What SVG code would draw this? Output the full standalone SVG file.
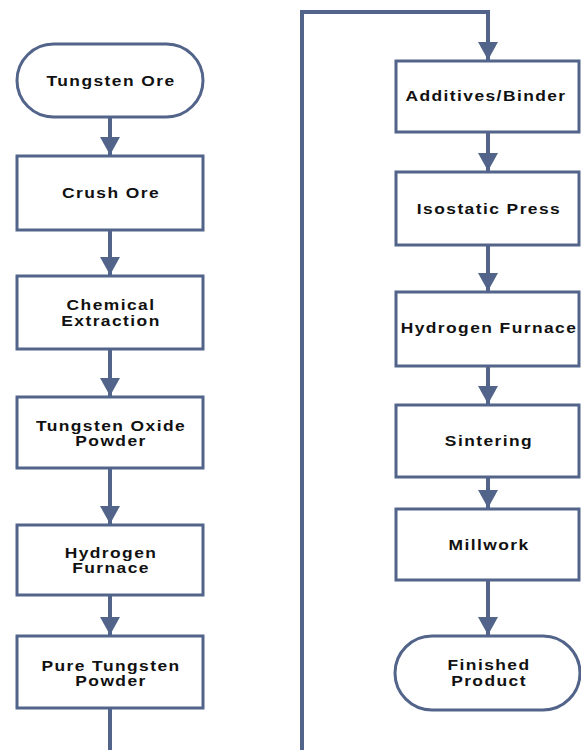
<svg xmlns="http://www.w3.org/2000/svg" width="581" height="750" viewBox="0 0 581 750">
<defs>
<style>
.box{fill:#fff;stroke:#52648a;stroke-width:3}
.ln{fill:none;stroke:#52648a;stroke-width:4}
.t{font-family:"Liberation Sans",Arial,sans-serif;font-weight:bold;font-size:14.5px;fill:#111;text-anchor:middle;letter-spacing:1.2px}
</style>
<marker id="ah" markerUnits="userSpaceOnUse" markerWidth="20" markerHeight="20" viewBox="0 0 18 20" refX="18" refY="10" orient="auto">
<path d="M0,0 L18,10 L0,20 Z" fill="#52648a"/>
</marker>
</defs>
<rect width="581" height="750" fill="#fff"/>
<g id="connectors">
<line class="ln" x1="110" y1="117" x2="110" y2="155" marker-end="url(#ah)"/>
<line class="ln" x1="110" y1="230" x2="110" y2="275" marker-end="url(#ah)"/>
<line class="ln" x1="110" y1="349" x2="110" y2="396" marker-end="url(#ah)"/>
<line class="ln" x1="110" y1="468" x2="110" y2="524" marker-end="url(#ah)"/>
<line class="ln" x1="110" y1="595" x2="110" y2="635" marker-end="url(#ah)"/>
<line class="ln" x1="110" y1="708" x2="110" y2="750"/>
<polyline class="ln" points="302,750 302,12 488,12 488,60" marker-end="url(#ah)"/>
<line class="ln" x1="488" y1="132" x2="488" y2="171" marker-end="url(#ah)"/>
<line class="ln" x1="488" y1="245" x2="488" y2="291" marker-end="url(#ah)"/>
<line class="ln" x1="488" y1="366" x2="488" y2="404" marker-end="url(#ah)"/>
<line class="ln" x1="488" y1="477" x2="488" y2="508" marker-end="url(#ah)"/>
<line class="ln" x1="488" y1="580" x2="488" y2="635" marker-end="url(#ah)"/>
</g>
<g id="tungsten-ore"><rect class="box" x="17" y="44" width="186" height="73" rx="36.5"/>
<text class="t" transform="translate(111,86) scale(1.2,1)">Tungsten Ore</text></g>
<g id="crush-ore"><rect class="box" x="17" y="156" width="186" height="74"/>
<text class="t" transform="translate(111,198) scale(1.2,1)">Crush Ore</text></g>
<g id="chemical-extraction"><rect class="box" x="17" y="276" width="186" height="73"/>
<text class="t" transform="translate(111,310) scale(1.2,1)">Chemical</text>
<text class="t" transform="translate(111,326) scale(1.2,1)">Extraction</text></g>
<g id="tungsten-oxide"><rect class="box" x="17" y="397" width="186" height="71"/>
<text class="t" transform="translate(111,431) scale(1.2,1)">Tungsten Oxide</text>
<text class="t" transform="translate(111,446) scale(1.2,1)">Powder</text></g>
<g id="hydrogen-furnace-1"><rect class="box" x="17" y="525" width="186" height="70"/>
<text class="t" transform="translate(111,558) scale(1.2,1)">Hydrogen</text>
<text class="t" transform="translate(111,573) scale(1.2,1)">Furnace</text></g>
<g id="pure-tungsten"><rect class="box" x="17" y="636" width="186" height="72"/>
<text class="t" transform="translate(111,671) scale(1.2,1)">Pure Tungsten</text>
<text class="t" transform="translate(111,686) scale(1.2,1)">Powder</text></g>
<g id="additives"><rect class="box" x="396" y="61" width="183" height="71"/>
<text class="t" transform="translate(486,101) scale(1.2,1)">Additives/Binder</text></g>
<g id="isostatic"><rect class="box" x="396" y="172" width="183" height="73"/>
<text class="t" transform="translate(489,214) scale(1.2,1)">Isostatic Press</text></g>
<g id="hydrogen-furnace-2"><rect class="box" x="396" y="292" width="183" height="74"/>
<text class="t" transform="translate(489,333) scale(1.2,1)">Hydrogen Furnace</text></g>
<g id="sintering"><rect class="box" x="396" y="405" width="183" height="72"/>
<text class="t" transform="translate(489,446) scale(1.2,1)">Sintering</text></g>
<g id="millwork"><rect class="box" x="396" y="509" width="183" height="71"/>
<text class="t" transform="translate(489,550) scale(1.2,1)">Millwork</text></g>
<g id="finished-product"><rect class="box" x="395" y="636" width="185" height="74" rx="37"/>
<text class="t" transform="translate(489,670) scale(1.2,1)">Finished</text>
<text class="t" transform="translate(489,686) scale(1.2,1)">Product</text></g>
</svg>
